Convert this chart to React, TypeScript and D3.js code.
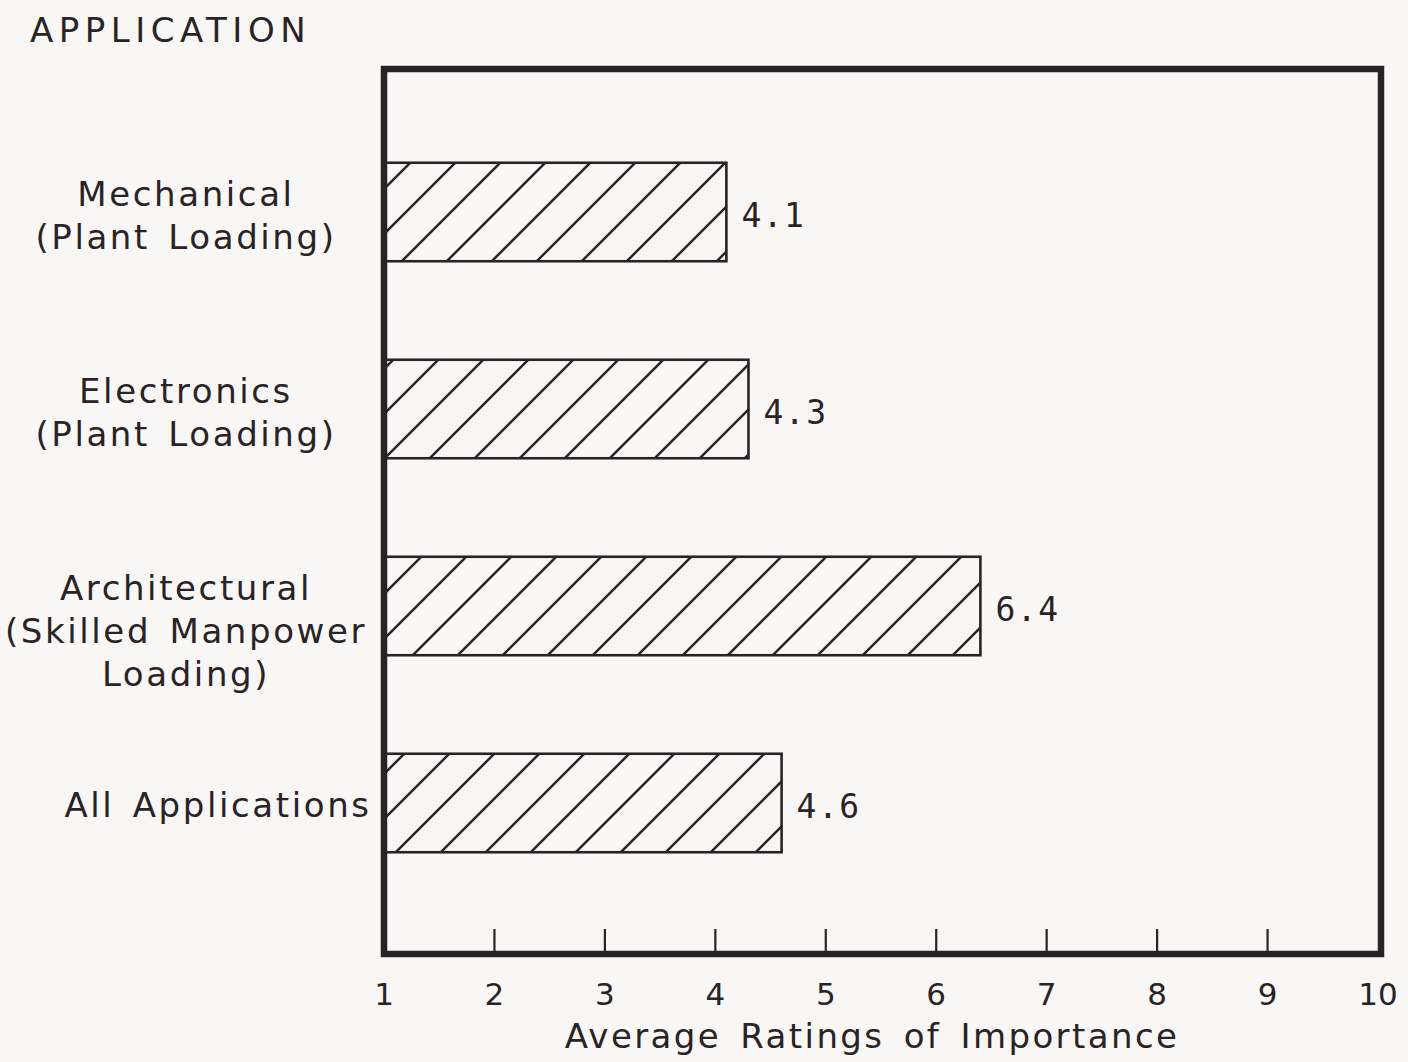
import React from "react";
import * as d3 from "d3";

const categories = ["Mechanical", "Electronics", "Architectural", "All Applications"];
const categoryLines = [
  ["Mechanical", "(Plant Loading)"],
  ["Electronics", "(Plant Loading)"],
  ["Architectural", "(Skilled Manpower", "Loading)"],
  ["All Applications"],
];
const values = [4.1, 4.3, 6.4, 4.6];
const valueLabels = ["4.1", "4.3", "6.4", "4.6"];
const tickValues = [1, 2, 3, 4, 5, 6, 7, 8, 9, 10];
const yTitle = "APPLICATION";
const xTitle = "Average Ratings of Importance";

const W = 1408;
const H = 1062;
const INK = "#2a2325";
const BG = "#f8f7f5";
const SANS = "'DejaVu Sans', sans-serif";
const MONO = "'DejaVu Sans Mono', monospace";

export default function App() {
  const x = d3.scaleLinear().domain([1, 10]).range([384, 1378]);
  const y = d3
    .scaleBand<string>()
    .domain(categories)
    .range([113.5, 901.5])
    .paddingInner(0.5)
    .paddingOuter(0.25);

  const frame = { left: 384, right: 1381, top: 69, bottom: 954 };

  return (
    <svg
      width={W}
      height={H}
      style={{ position: "fixed", left: 0, top: 0, display: "block" }}
    >
      <defs>
        <pattern
          id="hatch"
          patternUnits="userSpaceOnUse"
          width={45}
          height={45}
          x={33}
          y={0}
        >
          <path
            d="M-5,5 L5,-5 M0,45 L45,0 M40,50 L50,40"
            stroke={INK}
            strokeWidth={2.5}
            fill="none"
          />
        </pattern>
      </defs>
      <rect x={0} y={0} width={W} height={H} fill={BG} />

      <text
        x={30}
        y={42}
        fontFamily={SANS}
        fontSize={34}
        letterSpacing={5.5}
        fill={INK}
      >
        {yTitle}
      </text>

      {/* bars */}
      {categories.map((c, i) => {
        const y0 = y(c)!;
        const bw = y.bandwidth();
        return (
          <g key={c}>
            <rect
              x={x(1)}
              y={y0}
              width={x(values[i]) - x(1)}
              height={bw}
              fill="url(#hatch)"
              stroke={INK}
              strokeWidth={2.6}
            />
            <text
              x={x(values[i]) + 15}
              y={y0 + bw / 2 + 15}
              fontFamily={MONO}
              fontSize={33}
              letterSpacing={1.5}
              fill={INK}
            >
              {valueLabels[i]}
            </text>
          </g>
        );
      })}

      {/* category labels */}
      {categories.map((c, i) => {
        const lines = categoryLines[i];
        const cy = y(c)! + y.bandwidth() / 2;
        const lh = 43;
        const first = lines.length > 1 ? cy - 6 : cy + 14;
        const cx = lines.length > 1 ? 186 : 218;
        return (
          <text
            key={c}
            x={cx}
            textAnchor="middle"
            fontFamily={SANS}
            fontSize={34}
            letterSpacing={2.6}
            wordSpacing={5}
            fill={INK}
          >
            {lines.map((l, j) => (
              <tspan key={j} x={cx} y={first + j * lh}>
                {l}
              </tspan>
            ))}
          </text>
        );
      })}

      {/* frame */}
      <rect
        x={frame.left}
        y={frame.top}
        width={frame.right - frame.left}
        height={frame.bottom - frame.top}
        fill="none"
        stroke={INK}
        strokeWidth={6.5}
      />

      {/* ticks */}
      {tickValues.slice(1, -1).map((t) => (
        <line
          key={t}
          x1={x(t)}
          x2={x(t)}
          y1={frame.bottom}
          y2={frame.bottom - 25}
          stroke={INK}
          strokeWidth={2.2}
        />
      ))}
      {tickValues.map((t) => (
        <text
          key={t}
          x={x(t)}
          y={1005}
          textAnchor="middle"
          fontFamily={SANS}
          fontSize={31}
          fill={INK}
        >
          {t}
        </text>
      ))}

      <text
        x={872}
        y={1048}
        textAnchor="middle"
        fontFamily={SANS}
        fontSize={34}
        letterSpacing={2.4}
        wordSpacing={6}
        fill={INK}
      >
        {xTitle}
      </text>
    </svg>
  );
}
